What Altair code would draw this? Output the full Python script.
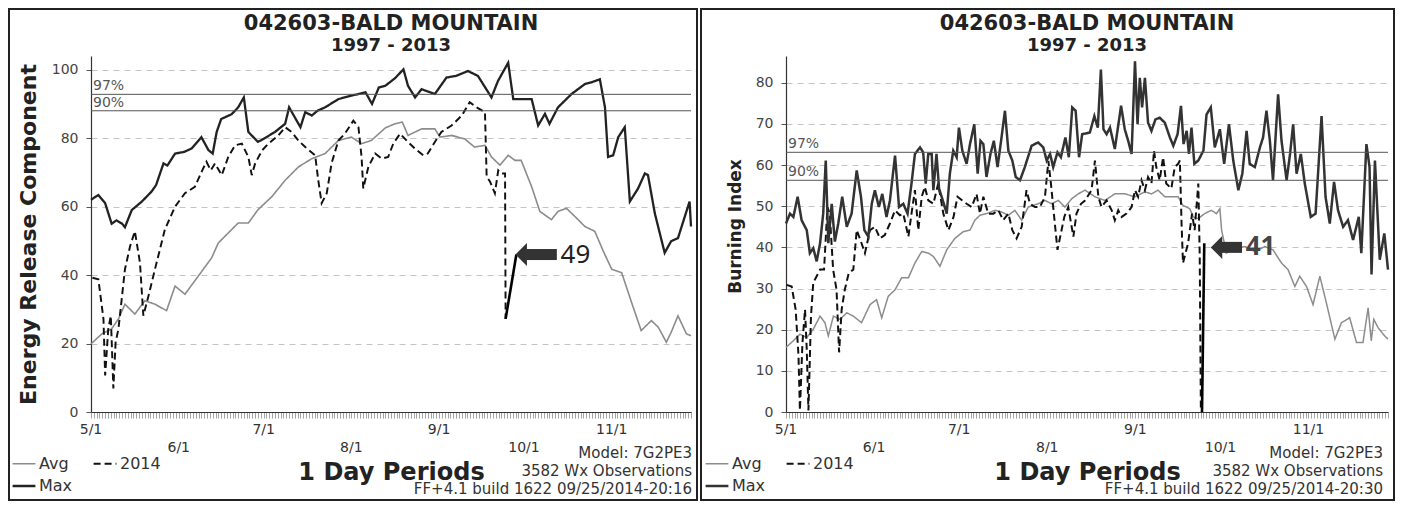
import altair as alt
import pandas as pd

# ---------------- data ----------------
SERIES = ["Avg", "2014", "Max"]
LEGEND_ORDER = ["Avg", "Max", "2014"]  # column-major fill: row 1 = Avg, 2014 ; row 2 = Max
MONTH_DAYS = [0, 31, 61, 92, 123, 153, 184]
MONTH_LABELS = ["5/1", "6/1", "7/1", "8/1", "9/1", "10/1", "11/1"]
MONTH_ROW = [0, 1, 0, 1, 0, 1, 0]

TITLE_1 = "042603-BALD MOUNTAIN"
TITLE_2 = "1997 - 2013"
X_TITLE = "1 Day Periods"
FOOT_LEFT = ["Model: 7G2PE3", "3582 Wx Observations", "FF+4.1 build 1622 09/25/2014-20:16"]
FOOT_RIGHT = ["Model: 7G2PE3", "3582 Wx Observations", "FF+4.1 build 1622 09/25/2014-20:30"]

# Energy Release Component (day 0 = May 1)
ERC_MAX = [(0, 62), (2.6, 63.4), (5, 61), (7.3, 55), (9, 56), (11, 55), (12, 54), (14.4, 59), (18, 61.5),
           (21.4, 64.4), (23, 66.3), (25.6, 72.6), (27, 72), (29.7, 75.5), (33, 76), (35.6, 77), (39, 80.3),
           (41.5, 76.5), (43, 75.5), (44.4, 81.8), (46, 85.6), (49.7, 87), (52, 89), (54, 91.9), (55.6, 81.8),
           (59, 78.9), (62, 80.3), (65, 81.8), (68.6, 84.2), (70, 89), (72, 86.1), (74, 83.2), (75.7, 87.6),
           (78, 86.6), (80, 88), (82.7, 89), (87.4, 91.4), (92, 92.4), (97, 93.4), (99.3, 90), (101.7, 94.8),
           (104, 95.3), (107.4, 97.5), (110.4, 100.1), (112, 95.3), (114.5, 91.9), (116.8, 94.3), (121.5, 92.9),
           (125.6, 97.7), (129, 98.2), (133.2, 99.6), (136.7, 98.2), (141.5, 91.9), (143.8, 96.7), (147.4, 102),
           (149.2, 91.4), (153.3, 91.4), (155.7, 91.4), (158, 83.7), (160.4, 87.1), (162, 84.2), (165, 89),
           (169.8, 92.9), (174.5, 95.8), (176.8, 96.3), (179.8, 97.2), (181.6, 89), (182.7, 74.5), (184.5, 75),
           (186.3, 80.3), (188.6, 83.2), (190.4, 61.5), (193.3, 65.3), (195.7, 69.7), (196.8, 69.2),
           (199.2, 58.1), (202.7, 46.5), (205, 49.9), (207.4, 50.8), (211.5, 61.5), (212, 54.2)]
ERC_AVG = [(0, 19.9), (3.8, 22.8), (7.3, 24.3), (9.7, 27.2), (12, 31.5), (15.5, 28.6), (19, 32.5), (22.6, 31.5),
           (26.7, 29.6), (29.7, 36.8), (33.2, 34.4), (37.9, 39.7), (42.6, 45), (45, 49.4), (48.5, 52.3),
           (52, 55.2), (55.6, 55.2), (59, 59.1), (63.9, 62.9), (68.6, 67.7), (73.3, 71.6), (78, 74), (82.7, 75.5),
           (87.4, 79.3), (92, 80.3), (95.6, 78.4), (99, 79.3), (104, 83), (107.4, 84.2), (110, 84.7), (112, 80.8),
           (116.8, 82.7), (121.5, 82.7), (123.3, 80.3), (127.4, 80.8), (132, 79.8), (135.5, 77.4), (139.2, 77.9),
           (141.5, 74.5), (144.5, 72.1), (147.4, 75), (149.8, 73.5), (152, 73.5), (155.7, 65.8), (158.6, 58.6),
           (162.7, 56.2), (165, 58.6), (168, 59.5), (171, 57.1), (174.5, 54.2), (178, 52.8), (181, 47),
           (184, 41.7), (187.5, 40.7), (191, 32), (194.4, 23.8), (198, 26.7), (200.4, 24.8), (203.3, 20.4),
           (205, 23.3), (207.4, 28.1), (210.4, 22.8), (212, 22.3)]
ERC_2014 = [(0.5, 39.2), (2.6, 38.8), (4.4, 27.2), (5, 10.7), (6.1, 24.3), (7, 28.1), (7.9, 6.9), (8.7, 20.4),
            (9.7, 24.3), (12, 41.7), (13.8, 48.4), (15.5, 52.8), (17.3, 43.6), (18.5, 28.1), (20.3, 33.9),
            (22.6, 41.7), (26.1, 53.3), (29.7, 60), (33.2, 63.9), (36.7, 65.8), (39.6, 71.1), (40.8, 73.1),
            (42.3, 70.6), (43.8, 72.6), (46.2, 69.2), (48.5, 74.5), (50.9, 77.9), (53.3, 78.4), (55.6, 74.5),
            (56.8, 69.2), (58, 72.6), (60.4, 76.4), (62.7, 78.4), (66.2, 80.8), (68.6, 83.2), (70.9, 81.8),
            (73.3, 79.3), (75.7, 77.4), (79.2, 75), (80.3, 67.7), (81.5, 61), (83.3, 63.9), (85, 72.6),
            (87.4, 79.3), (89.7, 81.3), (92.7, 85.1), (94.5, 83.2), (95.6, 74.5), (96.2, 65.3), (98, 71.6),
            (100.4, 75.5), (102.7, 74), (105, 74.5), (106.8, 78.4), (109.2, 81.3), (112, 78.9), (114.5, 76.9),
            (117.4, 75), (119, 75.5), (121.5, 78.9), (123.8, 81.8), (127.4, 83.7), (131, 86.6), (133.8, 90.5),
            (136.2, 89), (139.2, 87.6), (139.8, 68.7), (141, 67.3), (142.7, 63.9), (143.9, 70.6), (145, 69.7),
            (146.3, 69.7), (146.5, 27.2)]
ERC_OBS = [(146.5, 27.2), (150.3, 46.0)]
ERC_PCT = [("97%", 92.8), ("90%", 88.0)]
ERC_CALLOUT = [(150.0, 164.6, 46.0, "49")]  # arrow tip day, tail day, value, label

# Burning Index
BI_MAX = [(0, 45.8), (1.4, 48.2), (2.6, 47.4), (4.1, 52.3), (5.5, 46.6), (7.3, 44.2), (8.4, 38.6), (9.6, 39.8),
          (10.8, 36.6), (12, 41), (13.1, 48.2), (14, 61.1), (14.9, 41), (16.1, 50.6), (17.2, 41.4), (18.4, 45.8),
          (19.8, 52.3), (21.4, 45), (23.1, 48.2), (24.9, 58.7), (26.4, 52.3), (27.6, 44.2), (29, 42.6),
          (30.2, 50.6), (31.3, 53.9), (32.7, 49.8), (33.9, 53), (35.4, 47.4), (36.6, 51.4), (38.4, 62.3),
          (39.8, 49.8), (41.3, 50.6), (42.8, 48.2), (44.2, 55.5), (45.4, 62.7), (47.2, 64.3), (48.3, 63.1),
          (49.2, 55.5), (50.1, 62.7), (51.3, 62.7), (51.9, 53.9), (53, 62.7), (53.9, 54.3), (55.4, 51),
          (56.6, 48.2), (57.7, 57.9), (58.9, 63.5), (60.1, 61.9), (60.9, 69.1), (62.1, 63.5), (63.6, 60.3),
          (64.8, 65.1), (66.3, 69.9), (67.5, 57.9), (68.5, 65.9), (69.5, 65.1), (70.6, 57.1), (72, 62.7),
          (73.2, 65.9), (74.5, 59.5), (75.9, 66.7), (77.1, 73.2), (78.3, 63.5), (79.7, 61.1), (80.9, 57.1),
          (82.4, 56.3), (84.1, 59.5), (86.5, 64.7), (88.8, 65.5), (90.6, 64.3), (91.8, 61.1), (93, 62.7),
          (94.1, 59.5), (95.6, 63.1), (96.8, 61.9), (98.4, 66.7), (99.6, 61.9), (100.8, 74), (102, 73.2),
          (103.2, 61.9), (104.3, 67.5), (107, 67.9), (108.6, 71.9), (109.8, 69.1), (110.9, 83.2), (111.8, 68.7),
          (112.9, 67.5), (114.1, 69.1), (115.8, 63.9), (118, 74.4), (119.3, 68.7), (120.5, 65.9), (121.7, 62.7),
          (122.9, 85.2), (123.8, 69.9), (124.6, 81.2), (125.4, 74), (126.4, 81.2), (127.5, 70.3), (128.7, 68.3),
          (130.1, 71.1), (131.6, 71.5), (133.4, 70.3), (135.2, 66.7), (136.4, 64.7), (137.9, 67.5),
          (139.1, 74.4), (140, 65.1), (141.1, 68.3), (141.9, 62.7), (142.8, 69.1), (143.8, 60.3), (145.2, 61.1),
          (147, 63.5), (148.1, 72.3), (149.6, 74), (151, 64.3), (152.8, 68.7), (154.3, 60.3), (156, 69.9),
          (157.5, 61.1), (159.3, 53.9), (160.7, 57.9), (162.2, 68.3), (163.3, 60.3), (165.1, 59.5),
          (166.9, 64.3), (168, 66.7), (169.2, 73.2), (170.4, 65.9), (171.5, 56.3), (173.3, 77.2), (174.5, 65.9),
          (176.3, 56.3), (177.5, 62.7), (178.6, 69.9), (179.8, 57.9), (181.3, 62.7), (182.7, 55.5),
          (184.8, 47.4), (186.5, 48.2), (188.6, 71.9), (190, 52.3), (191.5, 45.8), (193, 55.9), (194.4, 49),
          (196.2, 45), (197.9, 46.6), (199.7, 41.8), (201.7, 47.4), (202.6, 38.6), (204.4, 65.1), (205.5, 59.5),
          (206.2, 33.4), (207.4, 61.1), (209.1, 37), (210.7, 43.4), (212, 34.6)]
BI_AVG = [(0, 15.7), (2.6, 17.3), (4.9, 18.9), (7.3, 18.1), (9.6, 20.1), (12, 23.3), (13.7, 21.7), (14.9, 18.5),
          (16.7, 23.3), (19, 22.5), (21.4, 24.1), (23.7, 23.3), (26.6, 21.7), (29.6, 26.1), (31.9, 27.3),
          (33.7, 22.9), (36, 28.1), (38.4, 29.7), (40.7, 32.6), (43.1, 32.6), (45.4, 36.2), (47.8, 39),
          (50.1, 38.6), (51.9, 37.8), (54.2, 35.4), (56.6, 39.4), (59.5, 42.2), (62.4, 43.8), (64.8, 44.2),
          (66.5, 46.6), (68.3, 47.8), (70.6, 48.2), (73.6, 49), (75.9, 48.6), (78.3, 47.8), (80.6, 49),
          (83, 46.6), (85.3, 49.8), (88.8, 50.6), (91.2, 51.4), (93.5, 50.6), (95.9, 51.4), (98.2, 49.8),
          (100.6, 51.8), (102.9, 53), (105.3, 53.9), (108.8, 52.3), (112.3, 51.4), (115.8, 53), (119.3, 53),
          (122.9, 52.3), (126.4, 53.5), (128.7, 53), (131, 53.9), (133.4, 52.3), (135.7, 52.3), (138.1, 52.3),
          (139.8, 50.2), (142.2, 49.4), (143.4, 47.4), (145.2, 47), (147.4, 48.2), (149.8, 49), (151.6, 48.2),
          (152.8, 49.4), (153.4, 44.2), (155.1, 38.6), (158.1, 39.8), (161.6, 40.2), (165.1, 39), (168.6, 40.2),
          (171.5, 39.4), (174.5, 36.2), (176.8, 34.6), (179.2, 30.5), (180.9, 33), (183.3, 30.5), (185.6, 26.1),
          (188, 33), (190.3, 26.5), (193.3, 17.7), (195.6, 21.7), (198.5, 22.9), (200.9, 16.9), (203.2, 16.9),
          (205, 25.3), (206.1, 17.3), (207, 22.5), (208.5, 20.5), (210.8, 18.5), (212, 17.7)]
BI_2014 = [(0.2, 30.9), (2, 30.5), (3.4, 24.9), (4.4, 13.7), (4.9, 0.4), (5.8, 16.9), (6.7, 24.9), (7.3, 15.3),
           (7.9, 0.4), (8.8, 23.3), (9.6, 31.4), (10.8, 33), (12, 34.6), (13.4, 34.6), (14.6, 49.8), (15.4, 48.2),
           (16.6, 34.6), (17.8, 29.7), (18.7, 14.5), (19.6, 24.9), (20.7, 29.7), (22.1, 33.8), (23.7, 34.6),
           (24.9, 44.2), (26.6, 41), (27.8, 38.6), (29.6, 44.2), (31.3, 45), (33.1, 42.2), (34.8, 43),
           (36.6, 45.8), (38.4, 49), (40.1, 47.8), (41.3, 48.2), (43.1, 42.6), (44.2, 48.2), (45.4, 53.9),
           (46.6, 44.2), (47.8, 52.3), (48.9, 54.7), (50.1, 51.4), (51.9, 50.6), (53.6, 55.5), (55.4, 48.2),
           (57.2, 44.2), (59, 47.4), (60.4, 52.3), (62.1, 51.4), (63.6, 50.6), (65.4, 49.8), (67.1, 53),
           (68.3, 48.2), (69.5, 52.3), (71.2, 48.2), (73, 48.2), (74.8, 49), (76.5, 46.6), (78.3, 48.2),
           (79.7, 44.2), (81.2, 42.2), (83, 45), (84.7, 53.9), (85.9, 50.6), (87.7, 49.8), (89.4, 49.8),
           (91.2, 52.3), (92.4, 61), (93.3, 55.5), (94.1, 49.8), (95.6, 39.4), (96.8, 43.4), (98, 47.4),
           (99.4, 49.8), (101.2, 42.6), (102.3, 48.2), (103.9, 50.6), (105.3, 51.4), (107.6, 53.9), (108.8, 61.1),
           (110, 52.3), (111.1, 49.8), (112.9, 51.4), (114.7, 49), (115.8, 46.6), (117, 49), (118.2, 47.4),
           (119.9, 48.2), (121.7, 49.8), (122.9, 53.9), (124, 52.3), (125.2, 56.3), (126.4, 53.9), (127.5, 57.1),
           (128.7, 55.5), (129.6, 63.5), (130.4, 59.5), (131.6, 56.3), (132.8, 61.9), (133.9, 55.5),
           (135.7, 54.3), (136.9, 59.5), (138.1, 60.3), (138.7, 61.1), (139.3, 45.8), (139.8, 36.2), (141.6, 41),
           (143, 48.2), (143.9, 44.2), (145.2, 55.5), (145.7, 37.8), (146.1, 0.4)]
BI_OBS = [(146.5, 0.0), (147.3, 41.0)]
BI_PCT = [("97%", 63.1), ("90%", 56.3)]
BI_CALLOUT = [(149.6, 160.6, 40.0, "41")]

# ---------------- chart ----------------
H = 356
TOP = -47      # panel frame top, relative to plot top
BOTTOM = 444   # panel frame bottom, relative to plot top
FONT = "DejaVu Sans"
ONE = pd.DataFrame({"k": [0]})


def series_frame(avg, y14, mx):
    parts = []
    for name, pts in (("Avg", avg), ("2014", y14), ("Max", mx)):
        d = pd.DataFrame(pts, columns=["day", "value"])
        d["series"] = name
        parts.append(d)
    return pd.concat(parts, ignore_index=True)


def panel(avg, y14, mx, obs, pct, callout, width, ymax, yticks, ytitle, ytitle_size, ytitle_x, ytitle_y,
          colors, widths, rect_x0, rect_x1, legend_x, foot, foot_x, call_color, call_weight):
    xs = alt.Scale(domain=[0, 212], nice=False, zero=False)
    ys = alt.Scale(domain=[0, ymax], nice=False, zero=True)
    df = series_frame(avg, y14, mx)

    leg = alt.Legend(orient="none", legendX=legend_x, legendY=395, columns=2, symbolType="stroke",
                     symbolSize=520, labelFont=FONT, labelFontSize=16, labelColor="#333",
                     columnPadding=16, rowPadding=1, labelOffset=2, values=LEGEND_ORDER)

    x_axis = alt.Axis(
        values=list(range(0, 213)), labels=False, tickSize=6, tickWidth=0.6, tickColor="#666",
        domainColor="#333", domainWidth=1.2, grid=False, title=X_TITLE, titleFont=FONT,
        titleFontSize=24, titleFontWeight="bold", titleColor="#222", titleY=60, titleX=width / 2,
        titleBaseline="middle")
    y_axis = alt.Axis(
        values=yticks, tickSize=5, tickColor="#555", labelPadding=8, labelFont=FONT, labelFontSize=14,
        labelColor="#444", domainColor="#333", domainWidth=1.2, grid=True, gridColor="#c4c4c4",
        gridDash=[6, 5], gridWidth=1, title=ytitle, titleFont=FONT, titleFontSize=ytitle_size,
        titleFontWeight="bold", titleColor="#222", titleAngle=270, titleX=ytitle_x, titleY=ytitle_y,
        titleBaseline="middle", titleAlign="center")

    def X(field):
        return alt.X(field, scale=xs, axis=x_axis)

    def Y(field):
        return alt.Y(field, scale=ys, axis=y_axis)

    border = alt.Chart(ONE).mark_rect(fillOpacity=0, stroke="#222", strokeWidth=2).encode(
        x=alt.value(rect_x0), x2=alt.value(rect_x1), y=alt.value(TOP), y2=alt.value(BOTTOM))

    lines = alt.Chart(df).mark_line().encode(
        x=X("day:Q"),
        y=Y("value:Q"),
        color=alt.Color("series:N", scale=alt.Scale(domain=SERIES, range=colors), legend=leg, title=None),
        strokeDash=alt.StrokeDash("series:N", scale=alt.Scale(domain=SERIES, range=[[1, 0], [7, 4], [1, 0]]),
                                  legend=leg, title=None),
        strokeWidth=alt.StrokeWidth("series:N", scale=alt.Scale(domain=SERIES, range=widths),
                                    legend=leg, title=None),
    )

    pct_df = pd.DataFrame(pct, columns=["label", "value"])
    pct_rules = alt.Chart(pct_df).mark_rule(color="#555", strokeWidth=1).encode(y=Y("value:Q"))
    pct_text = alt.Chart(pct_df).mark_text(align="left", baseline="bottom", font=FONT, fontSize=14,
                                           color="#555", dy=-1).encode(
        x=alt.value(2), y=Y("value:Q"), text="label:N")

    obs_df = pd.DataFrame(obs, columns=["day", "value"])
    obs_line = alt.Chart(obs_df).mark_line(color="#000", strokeWidth=2.6).encode(
        x=X("day:Q"), y=Y("value:Q"))

    cdf = pd.DataFrame(callout, columns=["tip", "tail", "value", "label"])
    cdf["head"] = cdf["tip"] + 2.0
    cdf["body"] = cdf["tip"] + 3.8
    cdf["lab"] = cdf["tail"] + 1.3
    body = alt.Chart(cdf).mark_rule(strokeWidth=11, color="#333", strokeCap="butt").encode(
        x=X("body:Q"), x2="tail:Q", y=Y("value:Q"))
    head = alt.Chart(cdf).mark_point(shape="M -0.5 0 L 0.5 -1 L 0.5 1 Z", size=529, filled=True,
                                     color="#333", opacity=1, strokeWidth=0).encode(
        x=X("head:Q"), y=Y("value:Q"))
    lab = alt.Chart(cdf).mark_text(align="left", baseline="middle", font="Noto Sans", fontSize=26,
                                   fontWeight=call_weight, color=call_color).encode(
        x=X("lab:Q"), y=Y("value:Q"), text="label:N")

    mdf = pd.DataFrame({"day": MONTH_DAYS, "label": MONTH_LABELS, "row": MONTH_ROW})
    m1 = alt.Chart(mdf).transform_filter("datum.row == 0").mark_text(
        font=FONT, fontSize=14, color="#333", baseline="middle").encode(
        x=X("day:Q"), y=alt.value(374), text="label:N")
    m2 = alt.Chart(mdf).transform_filter("datum.row == 1").mark_text(
        font=FONT, fontSize=14, color="#333", baseline="middle").encode(
        x=X("day:Q"), y=alt.value(392), text="label:N")

    t1 = alt.Chart(ONE).mark_text(font=FONT, fontSize=21, fontWeight="bold", color="#222",
                                  align="center", baseline="alphabetic").encode(
        x=alt.value(width / 2), y=alt.value(-26), text=alt.value(TITLE_1))
    t2 = alt.Chart(ONE).mark_text(font=FONT, fontSize=18, fontWeight="bold", color="#222",
                                  align="center", baseline="alphabetic").encode(
        x=alt.value(width / 2), y=alt.value(-5), text=alt.value(TITLE_2))

    foots = []
    for txt, yy in zip(foot, [397, 415, 433]):
        foots.append(alt.Chart(ONE).mark_text(font=FONT, fontSize=15, color="#333", align="right",
                                              baseline="middle").encode(
            x=alt.value(foot_x), y=alt.value(yy), text=alt.value(txt)))

    return alt.layer(border, lines, pct_rules, pct_text, obs_line, body, head, lab, m1, m2, t1, t2,
                     *foots).properties(width=width, height=H)


left = panel(ERC_AVG, ERC_2014, ERC_MAX, ERC_OBS, ERC_PCT, ERC_CALLOUT, 600, 104,
             [0, 20, 40, 60, 80, 100], "Energy Release Component", 22, -63, 178,
             ["#8c8c8c", "#111111", "#222222"], [1.6, 2.3, 2.4], -82, 606, -80, FOOT_LEFT, 601,
             "#222", "normal")
right = panel(BI_AVG, BI_2014, BI_MAX, BI_OBS, BI_PCT, BI_CALLOUT, 602, 86.5,
              [0, 10, 20, 30, 40, 50, 60, 70, 80], "Burning Index", 17, -51, 170,
              ["#8c8c8c", "#111111", "#333333"], [1.5, 2.5, 1.5], -85, 608, -82, FOOT_RIGHT, 597,
              "#444", "bold")

chart = alt.hconcat(left, right, spacing=2).resolve_scale(
    x="independent", y="independent", color="independent", strokeDash="independent",
    strokeWidth="independent").resolve_legend(
    color="independent", strokeDash="independent", strokeWidth="independent").properties(
    padding=0).configure_view(strokeWidth=0)

chart.save("out.html", embed_options={"renderer": "svg", "actions": False})
